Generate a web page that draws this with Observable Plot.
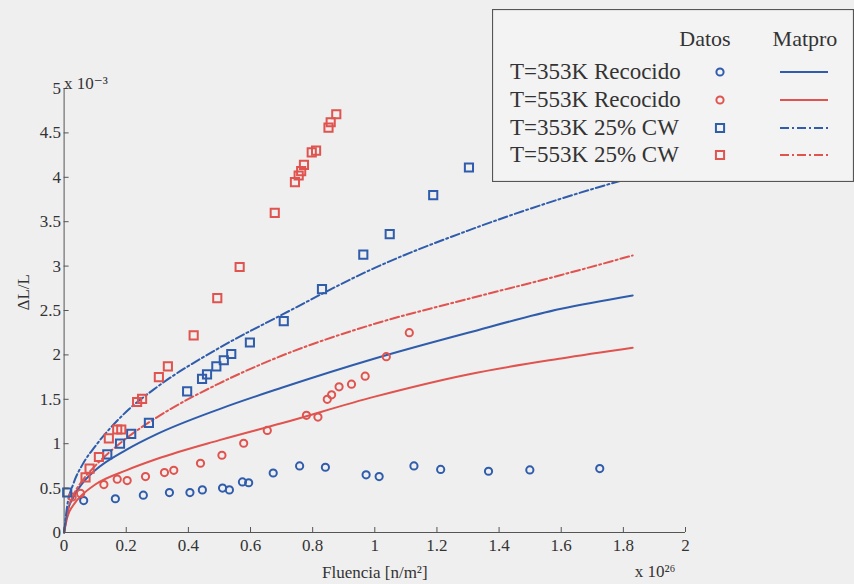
<!DOCTYPE html>
<html>
<head>
<meta charset="utf-8">
<script src="https://cdn.jsdelivr.net/npm/d3@7"></script>
<script src="https://cdn.jsdelivr.net/npm/@observablehq/plot@0.6"></script>
<style>
  html, body { margin: 0; padding: 0; background: #efefef; }
  #wrap { position: relative; width: 854px; height: 584px; background: #efefef; overflow: hidden; }
  #legend { position: absolute; left: 492px; top: 9px; }
  svg, svg text { font-family: "Liberation Serif", "DejaVu Serif", "Noto Serif", Times, serif !important; }
</style>
</head>
<body>
<div id="wrap"></div>
<script>
// ---- Data (x in units of 1e26 n/m^2, y in units of 1e-3) ----
const blueCircX = [0.063,0.165,0.255,0.339,0.405,0.445,0.51,0.532,0.574,0.594,0.673,0.758,0.841,0.972,1.014,1.126,1.212,1.366,1.499,1.724];
const blueCircY = [0.36,0.38,0.42,0.45,0.45,0.48,0.50,0.48,0.57,0.56,0.67,0.75,0.735,0.65,0.63,0.75,0.71,0.69,0.705,0.72];

const redCircX = [0.026,0.053,0.128,0.171,0.203,0.262,0.323,0.353,0.439,0.508,0.578,0.654,0.78,0.817,0.847,0.861,0.885,0.925,0.969,1.037,1.111];
const redCircY = [0.40,0.44,0.54,0.60,0.585,0.63,0.675,0.70,0.78,0.87,1.005,1.15,1.32,1.30,1.50,1.55,1.64,1.67,1.76,1.98,2.25];

const blueSqX = [0.01,0.139,0.18,0.216,0.273,0.396,0.444,0.46,0.49,0.514,0.538,0.598,0.707,0.83,0.963,1.048,1.188,1.303];
const blueSqY = [0.45,0.88,1.0,1.11,1.235,1.59,1.73,1.78,1.87,1.94,2.01,2.14,2.38,2.74,3.13,3.36,3.80,4.11];

const redSqX = [0.069,0.082,0.112,0.144,0.171,0.184,0.235,0.251,0.305,0.334,0.417,0.493,0.565,0.678,0.743,0.755,0.763,0.772,0.797,0.811,0.851,0.858,0.876];
const redSqY = [0.62,0.72,0.85,1.06,1.16,1.16,1.47,1.505,1.75,1.87,2.22,2.64,2.99,3.60,3.945,4.02,4.07,4.14,4.28,4.30,4.56,4.62,4.71];

// Matpro model curves
const lineX     = [0, 0.01, 0.03, 0.06, 0.1, 0.2, 0.3, 0.5, 0.7, 1.0, 1.3, 1.6, 1.83];
const blueSolid = [0, 0.22, 0.40, 0.56, 0.70, 0.93, 1.11, 1.39, 1.63, 1.96, 2.25, 2.52, 2.67];
const redSolid  = [0, 0.17, 0.31, 0.43, 0.54, 0.70, 0.83, 1.04, 1.23, 1.53, 1.78, 1.96, 2.08];
const blueDash  = [0, 0.30, 0.55, 0.77, 0.97, 1.36, 1.64, 2.08, 2.45, 2.98, 3.40, 3.76, 4.00];
const redDash   = [0, 0.22, 0.42, 0.59, 0.75, 1.06, 1.30, 1.68, 1.99, 2.35, 2.63, 2.90, 3.12];

const xTicks = [0,0.2,0.4,0.6,0.8,1,1.2,1.4,1.6,1.8,2];
const yTicks = [0,0.5,1,1.5,2,2.5,3,3.5,4,4.5,5];

const legendLabels = ["T=353K Recocido","T=553K Recocido","T=353K 25% CW","T=553K 25% CW"];

// ---- Styles ----
const BLUE = "#2f5cab";
const RED = "#e0534e";
const DASHDOT = "9,3,2,3";
const FONT = "'Liberation Serif', 'DejaVu Serif', 'Noto Serif', Times, serif";
const fmt = d => String(+d.toFixed(2));

const pts = (xs, ys) => xs.map((x, i) => ({x, y: ys[i]}));
const curve = ys => lineX.map((x, i) => ({x, y: ys[i]}));

const chart = Plot.plot({
  width: 854,
  height: 584,
  marginLeft: 63.6,
  marginRight: 169,
  marginTop: 88,
  marginBottom: 52,
  style: {background: "transparent", fontFamily: FONT, fontSize: "17px", color: "#333"},
  x: {domain: [0, 2]},
  y: {domain: [0, 5]},
  marks: [
    Plot.line(curve(redSolid), {x: "x", y: "y", stroke: RED, strokeWidth: 2, curve: "monotone-x"}),
    Plot.line(curve(blueSolid), {x: "x", y: "y", stroke: BLUE, strokeWidth: 2, curve: "monotone-x"}),
    Plot.line(curve(redDash), {x: "x", y: "y", stroke: RED, strokeWidth: 2, strokeDasharray: DASHDOT, curve: "monotone-x"}),
    Plot.line(curve(blueDash), {x: "x", y: "y", stroke: BLUE, strokeWidth: 2, strokeDasharray: DASHDOT, curve: "monotone-x"}),
    Plot.dot(pts(blueCircX, blueCircY), {x: "x", y: "y", r: 3.6, stroke: BLUE, strokeWidth: 2, fill: "none"}),
    Plot.dot(pts(redCircX, redCircY), {x: "x", y: "y", r: 3.6, stroke: RED, strokeWidth: 2, fill: "none"}),
    Plot.dot(pts(blueSqX, blueSqY), {x: "x", y: "y", symbol: "square", r: 4.6, stroke: BLUE, strokeWidth: 2, fill: "none"}),
    Plot.dot(pts(redSqX, redSqY), {x: "x", y: "y", symbol: "square", r: 4.6, stroke: RED, strokeWidth: 2, fill: "none"}),
    Plot.ruleY([0], {x1: 0, x2: 2, stroke: "#555"}),
    Plot.ruleX([0], {y1: 0, y2: 5, stroke: "#555"}),
    Plot.axisX({ticks: xTicks, tickSize: -5, tickPadding: 11, tickFormat: fmt, label: null, stroke: "#555", fill: "#333", fontSize: 17}),
    Plot.axisY({ticks: yTicks, tickSize: -5, tickPadding: 8, tickFormat: fmt, label: null, stroke: "#555", fill: "#333", fontSize: 17}),
    Plot.text(["ΔL/L"], {frameAnchor: "left", dx: -41, rotate: -90, fontSize: 17, fill: "#333"}),
    Plot.text(["Fluencia [n/m²]"], {frameAnchor: "bottom", dy: 45, fontSize: 17, fill: "#333"}),
    Plot.text(["x 10²⁶"], {frameAnchor: "bottom-right", textAnchor: "end", dx: -10, dy: 44, fontSize: 17, fill: "#333"}),
    Plot.text(["x 10⁻³"], {frameAnchor: "top-left", textAnchor: "start", dx: 0, dy: -12, fontSize: 17, fill: "#333"})
  ]
});

const wrap = document.getElementById("wrap");
wrap.appendChild(chart);

// ---- Legend (overlays the plot, opaque) ----
const LW = 361, LH = 172;
const leg = d3.create("svg").attr("id", "legend").attr("width", LW + 1).attr("height", LH + 1)
  .style("font-family", FONT);
leg.append("rect").attr("x", 0.5).attr("y", 0.5).attr("width", LW).attr("height", LH)
  .attr("fill", "#f3f3f3").attr("stroke", "#555").attr("stroke-width", 1.2);
leg.append("text").attr("x", 213).attr("y", 37).attr("text-anchor", "middle").attr("font-size", 22).attr("fill", "#333").text("Datos");
leg.append("text").attr("x", 313).attr("y", 37).attr("text-anchor", "middle").attr("font-size", 22).attr("fill", "#333").text("Matpro");
const rowsY = [70, 98, 126, 153];
const legColors = [BLUE, RED, BLUE, RED];
const legSym = [d3.symbolCircle, d3.symbolCircle, d3.symbolSquare, d3.symbolSquare];
const legR = [3.6, 3.6, 4.6, 4.6];
const legDash = [null, null, DASHDOT, DASHDOT];
legendLabels.forEach((lab, i) => {
  const y = rowsY[i];
  leg.append("text").attr("x", 18).attr("y", y).attr("font-size", 23).attr("fill", "#333").text(lab);
  leg.append("path").attr("transform", `translate(228,${y - 7})`)
    .attr("d", d3.symbol(legSym[i], Math.PI * legR[i] * legR[i])())
    .attr("fill", "none").attr("stroke", legColors[i]).attr("stroke-width", 2);
  leg.append("line").attr("x1", 288).attr("x2", 336).attr("y1", y - 7).attr("y2", y - 7)
    .attr("stroke", legColors[i]).attr("stroke-width", 2).attr("stroke-dasharray", legDash[i]);
});
wrap.appendChild(leg.node());
</script>
</body>
</html>
